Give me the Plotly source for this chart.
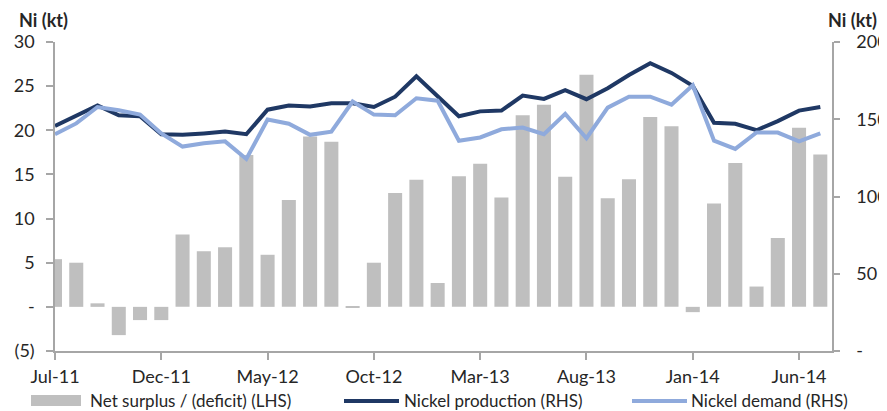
import plotly.graph_objects as go

months = ["Jul-11","Aug-11","Sep-11","Oct-11","Nov-11","Dec-11","Jan-12","Feb-12","Mar-12","Apr-12",
          "May-12","Jun-12","Jul-12","Aug-12","Sep-12","Oct-12","Nov-12","Dec-12","Jan-13","Feb-13",
          "Mar-13","Apr-13","May-13","Jun-13","Jul-13","Aug-13","Sep-13","Oct-13","Nov-13","Dec-13",
          "Jan-14","Feb-14","Mar-14","Apr-14","May-14","Jun-14","Jul-14"]

surplus = [5.4, 5.0, 0.4, -3.2, -1.5, -1.5, 8.2, 6.3, 6.75, 17.2,
           5.9, 12.1, 19.3, 18.7, -0.1, 5.0, 12.9, 14.4, 2.7, 14.8,
           16.2, 12.4, 21.7, 22.9, 14.75, 26.3, 12.3, 14.45, 21.5, 20.45,
           -0.6, 11.7, 16.3, 2.3, 7.8, 20.3, 17.25]

production = [145.6, 152.6, 158.9, 152.6, 151.9, 140.3, 139.9, 140.8, 142.0, 140.3,
              156.2, 158.9, 158.3, 160.4, 160.4, 157.9, 164.6, 177.8, 165.0, 151.9,
              155.1, 155.6, 165.3, 163.2, 168.9, 163.0, 170.1, 178.6, 186.3, 180.0,
              171.6, 147.7, 147.1, 142.9, 148.8, 155.6, 157.9]

demand = [140.3, 147.3, 157.9, 155.8, 153.0, 140.8, 132.3, 134.4, 135.7, 124.3,
          149.8, 147.1, 139.9, 142.0, 161.5, 153.0, 152.6, 163.6, 162.0, 136.1,
          138.2, 143.5, 144.6, 140.3, 153.5, 137.7, 157.5, 164.6, 164.6, 159.4,
          172.0, 136.1, 130.8, 141.4, 141.4, 135.7, 140.8]

series_names = ["Net surplus / (deficit) (LHS)", "Nickel production (RHS)", "Nickel demand (RHS)"]
colors = ["#BFBFBF", "#1F3864", "#8FAADC"]

tick_step = 5
left_ticks = [-5, 0, 5, 10, 15, 20, 25, 30]
left_text = ["(5)", "-", "5", "10", "15", "20", "25", "30"]
right_ticks = [0, 50, 100, 150, 200]
right_text = ["-", "50", "100", "150", "200"]

idx = list(range(len(months)))
font = "Lato, Open Sans, sans-serif"
txt_col = "#262626"
axis_col = "#A6A6A6"

# The page body has an 8px margin; layout in page pixels, converted to figure space.
OFF = 8
W, H = 887 - OFF, 411 - OFF
PL, PR, PT, PB = 55, 832, 42, 351          # plot area in page pixels
L, T = PL - OFF, PT - OFF
R, B = W - (PR - OFF), H - (PB - OFF)
pw, ph = PR - PL, PB - PT
def px(x):
    return (x - PL) / pw
def py(y):
    return (PB - y) / ph

fig = go.Figure()
fig.add_trace(go.Bar(x=idx, y=surplus, name=series_names[0],
                     marker=dict(color=colors[0], line=dict(width=0)), width=0.66, yaxis="y"))
fig.add_trace(go.Scatter(x=idx, y=production, name=series_names[1], mode="lines",
                         line=dict(color=colors[1], width=4), yaxis="y2"))
fig.add_trace(go.Scatter(x=idx, y=demand, name=series_names[2], mode="lines",
                         line=dict(color=colors[2], width=4), yaxis="y2"))

# custom legend (swatches + labels) below the plot
leg_y = 400
shapes = [
    dict(type="rect", xref="paper", yref="paper", x0=px(31), x1=px(81), y0=py(406), y1=py(395),
         fillcolor=colors[0], line=dict(width=0)),
    dict(type="line", xref="paper", yref="paper", x0=px(344), x1=px(399), y0=py(401), y1=py(401),
         line=dict(color=colors[1], width=4)),
    dict(type="line", xref="paper", yref="paper", x0=px(632), x1=px(687), y0=py(401), y1=py(401),
         line=dict(color=colors[2], width=4)),
]
legend_ann = [
    dict(text=series_names[0], xref="paper", yref="paper", x=px(88), y=py(leg_y),
         xanchor="left", yanchor="middle", showarrow=False, font=dict(size=17, color=txt_col)),
    dict(text=series_names[1], xref="paper", yref="paper", x=px(402), y=py(leg_y),
         xanchor="left", yanchor="middle", showarrow=False, font=dict(size=17, color=txt_col)),
    dict(text=series_names[2], xref="paper", yref="paper", x=px(689), y=py(leg_y),
         xanchor="left", yanchor="middle", showarrow=False, font=dict(size=17, color=txt_col)),
]

fig.update_layout(
    width=W, height=H,
    margin=dict(l=L, r=R, t=T, b=B, pad=0, autoexpand=False),
    plot_bgcolor="white", paper_bgcolor="white",
    font=dict(family=font, size=18, color=txt_col),
    showlegend=False,
    xaxis=dict(range=[0, 36.55], tickvals=idx[::tick_step], ticktext=months[::tick_step],
               showline=True, linecolor=axis_col, linewidth=1.5, ticks="outside",
               ticklen=7, tickcolor=axis_col, tickwidth=1.5, showgrid=False, zeroline=False,
               ticklabelstandoff=2),
    yaxis=dict(range=[-5, 30], tickvals=left_ticks, ticktext=left_text,
               showline=True, linecolor=axis_col, linewidth=1.5, ticks="outside",
               ticklen=7, tickcolor=axis_col, tickwidth=1.5, showgrid=False, zeroline=False,
               ticklabelstandoff=8),
    yaxis2=dict(range=[0, 200], tickvals=right_ticks, ticktext=right_text, overlaying="y",
                side="right", showline=True, linecolor=axis_col, linewidth=1.5,
                ticks="outside", ticklen=6, tickcolor=axis_col, tickwidth=1.5, showgrid=False,
                zeroline=False, ticklabelstandoff=13),
    shapes=shapes,
    annotations=legend_ann + [
        dict(text="<b>Ni (kt)</b>", xref="paper", yref="paper", x=px(43), y=py(20),
             xanchor="center", yanchor="middle", showarrow=False, font=dict(size=18, color=txt_col)),
        dict(text="<b>Ni (kt)</b>", xref="paper", yref="paper", x=px(852), y=py(20),
             xanchor="center", yanchor="middle", showarrow=False, font=dict(size=18, color=txt_col)),
    ],
)

fig.write_html("out.html")
